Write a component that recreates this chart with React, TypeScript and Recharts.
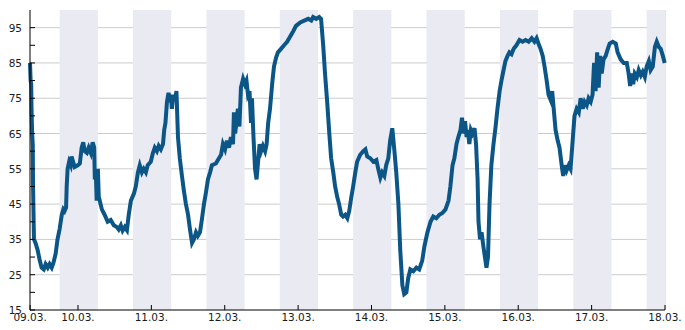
import { LineChart, Line, XAxis, YAxis, CartesianGrid, ReferenceArea } from 'recharts';

document.body.style.margin = '0';

// hours since 09.03. 00:00
const hours = [
  8.3, 8.5, 8.7, 8.8, 9.0, 9.2, 9.3, 9.6, 10.1, 10.8, 11.5, 12.1, 12.8, 13.4, 14.1, 14.7, 15.4, 16.0, 16.7, 17.3,
  18.0, 18.7, 19.2, 19.6, 20.1, 20.3, 20.6, 21.1, 21.6, 21.9, 22.4, 22.9, 23.9, 24.6, 25.2, 25.7, 26.2, 26.9, 27.5, 28.2,
  28.8, 29.3, 29.5, 29.8, 30.1, 30.5, 30.8, 31.1, 31.8, 32.7, 33.7, 34.7, 35.7, 36.7, 37.3, 38.0, 38.6, 39.3, 40.0, 40.6,
  41.3, 42.3, 42.9, 43.6, 44.2, 44.9, 45.5, 46.2, 46.8, 47.8, 48.5, 49.1, 49.8, 50.4, 51.1, 51.8, 52.2, 52.6, 53.1, 53.6,
  54.1, 54.4, 54.7, 55.2, 55.7, 56.2, 56.7, 57.3, 58.0, 58.6, 59.3, 60.0, 60.6, 61.3, 61.9, 62.6, 63.2, 63.9, 64.5, 65.2,
  65.8, 66.5, 67.2, 67.8, 69.1, 70.1, 70.8, 71.4, 72.1, 72.7, 73.4, 74.0, 74.7, 75.0, 75.4, 75.8, 76.3, 76.8, 77.3, 78.0,
  78.6, 79.1, 79.6, 80.1, 80.6, 80.9, 81.4, 81.9, 82.4, 82.9, 83.4, 83.9, 84.5, 85.2, 85.7, 86.2, 86.8, 87.5, 88.1, 88.8,
  89.4, 90.4, 91.4, 92.4, 93.4, 94.4, 95.3, 96.7, 98.0, 99.3, 100.3, 100.9, 101.9, 102.9, 103.5, 104.2, 104.8, 105.5, 106.2, 106.8,
  107.5, 108.1, 108.8, 109.4, 110.1, 110.7, 111.4, 112.1, 112.7, 113.4, 114.0, 114.7, 115.3, 116.3, 117.3, 118.0, 118.6, 119.6, 120.6, 121.6,
  122.2, 122.9, 123.5, 124.2, 124.8, 125.5, 126.1, 126.8, 127.5, 128.1, 128.8, 129.4, 130.1, 130.7, 131.4, 132.0, 132.7, 133.7, 134.7, 135.6,
  136.6, 137.3, 138.3, 139.3, 140.2, 141.2, 142.2, 143.2, 144.2, 145.2, 145.8, 146.5, 147.1, 147.8, 148.4, 149.1, 149.6, 150.1, 150.6, 151.1,
  151.5, 152.0, 152.5, 153.0, 153.7, 154.2, 154.7, 155.0, 155.5, 156.0, 156.6, 157.1, 157.6, 158.1, 158.6, 159.2, 159.9, 160.6, 161.2, 161.9,
  162.5, 163.2, 163.8, 164.5, 165.1, 165.8, 166.5, 167.4, 168.4, 169.4, 170.4, 171.4, 172.4, 173.3, 174.0, 174.6, 175.3, 176.0, 176.6, 177.3,
  177.9, 178.6, 179.1, 179.6, 180.2, 180.9, 181.5, 182.2, 182.7, 183.2, 183.8, 184.5, 185.1, 185.8, 186.4, 187.1, 187.8, 188.4, 189.1, 189.7,
  190.4, 191.0, 191.7, 192.3, 192.8, 193.3, 193.8, 194.3, 194.8, 195.3, 195.9, 196.6, 197.3, 197.9, 198.9, 199.9, 200.5, 201.5, 202.5, 203.5,
  204.1, 204.6, 205.1, 205.6, 206.1, 206.8, 207.4, 208.1, 208.7, 209.4, 210.0, 210.7, 211.3, 212.0, 212.7, 213.3, 214.0, 214.6, 215.3, 215.9,
];

const values = [
  85, 80, 79, 72, 65, 62, 50, 35, 34, 32, 29, 27, 26.5, 28, 27, 28, 27, 28.5, 31, 35,
  38, 42, 43.5, 43, 44, 50, 55, 57, 56, 58.5, 57, 55.5, 56, 56.5, 61, 62.5, 60, 59.5, 61, 59.5,
  62.5, 61, 52, 55, 46, 55, 47, 46, 43.5, 42, 40, 40.5, 39, 38.5, 37.8, 39, 37.5, 38.5, 37.6, 42,
  46, 48, 50, 54, 56, 54, 55, 54, 56, 57, 59.5, 61, 60, 61.5, 60.5, 62, 66, 68, 74, 76.5,
  75, 76, 72, 76, 74.5, 77, 64, 58, 53, 49, 45, 42, 38, 34, 35, 37, 36, 37, 40.5, 45,
  48, 52, 54, 56, 56.5, 58, 59, 62, 60.5, 63, 61, 64, 62, 71, 65, 68, 72, 67, 78, 80.5,
  79, 80, 76, 77, 68, 75, 64, 55, 52, 57, 62, 60, 61.5, 60, 62, 68, 72, 79, 84, 86.5,
  88, 89, 90, 91, 92.5, 94, 95.5, 96.5, 97, 97.5, 97, 98, 97.5, 98, 97.5, 90, 82, 74, 65, 58,
  54, 50, 47, 45, 42, 41.5, 42, 41, 43, 47, 50, 54, 57, 59, 60, 60.5, 58.5, 58, 57, 57.5,
  55, 52.5, 54, 53, 56, 58, 63, 66.5, 60, 54, 45, 32, 22, 19.5, 20, 24, 26.5, 26, 27, 26.5,
  29, 33, 37, 40, 41.5, 41, 42, 42.5, 43.5, 46, 50, 56, 58, 62, 64, 66, 69.5, 65, 68.5, 64,
  66, 62, 66, 65, 66.5, 62, 52, 40, 35, 37, 33, 30, 27, 30, 45, 56, 62, 67, 72, 77,
  80, 83, 85.5, 87, 88, 87.5, 89, 90, 91.5, 91, 91.5, 91, 92, 91, 92, 90.5, 89, 87, 84, 80,
  76, 74.5, 77, 72, 66, 63, 61, 56, 53, 56, 54.5, 56, 55, 63, 70, 72, 71, 75, 72, 74,
  73, 75, 74, 76, 85, 77, 88, 78, 87, 82, 86, 87, 89, 90.5, 91, 90.5, 88, 86, 85, 85,
  82, 78.5, 82, 79, 82, 81, 83, 81.5, 82.5, 81, 84, 85.5, 83, 84, 89.5, 91, 89.5, 89, 87, 85,
];

// nights (18:00 - 06:30), hours since 09.03. 00:00
const nightStart = [18, 42, 66, 90, 114, 138, 162, 186, 210];
const nightEnd = [30.5, 54.5, 78.5, 102.5, 126.5, 150.5, 174.5, 198.5, 222.5];

const xTicks = [8.33, 24, 48, 72, 96, 120, 144, 168, 192, 216];
const xGrid = [24, 48, 72, 96, 120, 144, 168, 192, 216];
const yTicks = [15, 20, 25, 30, 35, 40, 45, 50, 55, 60, 65, 70, 75, 80, 85, 90, 95];
const yGrid = [25, 35, 45, 55, 65, 75, 85, 95];

const data = hours.map((h, i) => ({ h, v: values[i] }));

const FONT = { fontFamily: 'DejaVu Sans', fontSize: 10.5, fill: '#1a1a1a' };

function dayLabel(h: number) {
  const d = 9 + Math.floor(h / 24);
  return `${String(d).padStart(2, '0')}.03.`;
}

function XTick(props: any) {
  const { x, y, payload } = props;
  return (
    <g>
      <line x1={x} x2={x} y1={y} y2={y - 5} stroke="#000" />
      <text x={x} y={y + 11} textAnchor="middle" {...FONT}>
        {dayLabel(payload.value)}
      </text>
    </g>
  );
}

function YTick(props: any) {
  const { x, y, payload } = props;
  const labelled = (payload.value - 15) % 10 === 0;
  return (
    <g>
      <line x1={x} x2={x + 5} y1={y} y2={y} stroke="#000" />
      {labelled && (
        <text x={x - 8} y={y + 4} textAnchor="end" {...FONT}>
          {payload.value}
        </text>
      )}
    </g>
  );
}

export default function App() {
  return (
    <LineChart width={685} height={330} data={data} margin={{ top: 10, right: 20, bottom: 0, left: 0 }}>
      {nightStart.map((s, i) => (
        <ReferenceArea
          key={`night-${i}`}
          x1={s}
          x2={nightEnd[i]}
          fill="#eaeaf2"
          fillOpacity={1}
          stroke="none"
          ifOverflow="hidden"
        />
      ))}
      <CartesianGrid
        stroke="#cccccc"
        horizontalValues={yGrid}
        verticalValues={xGrid}
      />
      <XAxis
        dataKey="h"
        type="number"
        domain={[8.33, 216]}
        ticks={xTicks}
        height={20}
        tickSize={0}
        tickMargin={0}
        tickLine={false}
        axisLine={{ stroke: '#000' }}
        tick={(p: any) => <XTick {...p} />}
        interval={0}
      />
      <YAxis
        type="number"
        domain={[15, 100]}
        ticks={yTicks}
        width={30}
        tickSize={0}
        tickMargin={0}
        tickLine={false}
        axisLine={{ stroke: '#000' }}
        tick={(p: any) => <YTick {...p} />}
        interval={0}
      />
      <Line
        dataKey="v"
        type="linear"
        stroke="#0b5686"
        strokeWidth={4}
        dot={false}
        isAnimationActive={false}
      />
    </LineChart>
  );
}
